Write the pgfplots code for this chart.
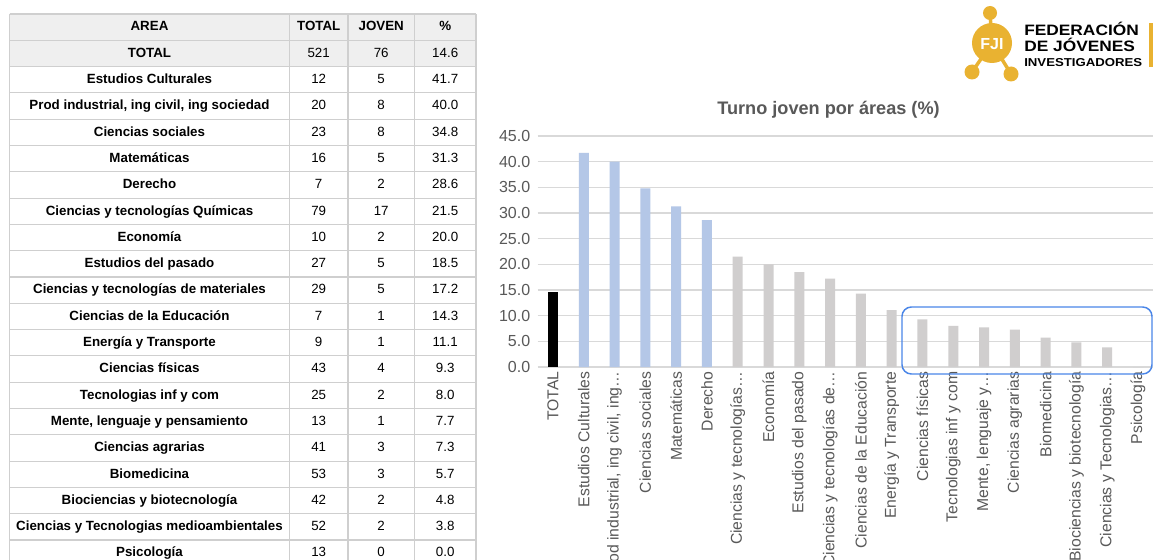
\documentclass[border=0pt]{standalone}
\usepackage{pgfplots}
\pgfplotsset{compat=1.18}
\usepackage{pgfplotstable}
\usepackage{graphicx}
\usepackage{fontspec}
\setmainfont{Liberation Sans}
\definecolor{tgrid}{HTML}{CFCFCF}
\definecolor{thead}{HTML}{EFEFEF}
\definecolor{bblue}{HTML}{B4C7E7}
\definecolor{bgray}{HTML}{D0CECE}
\definecolor{txtgray}{HTML}{595959}
\definecolor{ggrid}{HTML}{D9D9D9}
\definecolor{gold}{HTML}{E9B231}
\definecolor{boxblue}{HTML}{4A86E8}

\pgfplotstableread{
x y
0 14.6
}\totaltab
\pgfplotstableread{
x y
1 41.7
2 40.0
3 34.8
4 31.3
5 28.6
}\bluetab
\pgfplotstableread{
x y
6 21.5
7 20.0
8 18.5
9 17.2
10 14.3
11 11.1
12 9.3
13 8.0
14 7.7
15 7.3
16 5.7
17 4.8
18 3.8
19 0.0
}\graytab

% row index, area, total, joven, pct
\newcommand\trow[5]{%
  \node[font=\bfseries\fontsize{10}{12}\selectfont, text height=7.3pt, text depth=1.6pt, inner sep=0pt] at (149.5,{27.15+26.3*#1}) {#2};
  \node[font=\fontsize{10}{12}\selectfont, text height=7.3pt, text depth=1.6pt, inner sep=0pt] at (318.7,{27.15+26.3*#1}) {#3};
  \node[font=\fontsize{10}{12}\selectfont, text height=7.3pt, text depth=1.6pt, inner sep=0pt] at (381.2,{27.15+26.3*#1}) {#4};
  \node[font=\fontsize{10}{12}\selectfont, text height=7.3pt, text depth=1.6pt, inner sep=0pt] at (445.2,{27.15+26.3*#1}) {#5};
}

\begin{document}
\begin{tikzpicture}
\begin{scope}[x=0.75pt,y=-0.75pt]
\fill[white] (0,0) rectangle (1153,560);
% table
\fill[thead] (9.5,14) rectangle (476,66.6);
\foreach \i in {0,...,20} {\draw[tgrid, line width=0.8pt] (9.5,{14+26.3*\i}) -- (476,{14+26.3*\i});}
\foreach \xx in {9.5,289.5,348,414.5,476} {\draw[tgrid, line width=0.8pt] (\xx,14) -- (\xx,560);}
\node[font=\bfseries\fontsize{10}{12}\selectfont, text height=7.3pt, text depth=1.6pt, inner sep=0pt] at (149.5,27.15) {AREA};
\node[font=\bfseries\fontsize{10}{12}\selectfont, text height=7.3pt, text depth=1.6pt, inner sep=0pt] at (318.7,27.15) {TOTAL};
\node[font=\bfseries\fontsize{10}{12}\selectfont, text height=7.3pt, text depth=1.6pt, inner sep=0pt] at (381.2,27.15) {JOVEN};
\node[font=\bfseries\fontsize{10}{12}\selectfont, text height=7.3pt, text depth=1.6pt, inner sep=0pt] at (445.2,27.15) {\%};
\trow{1}{TOTAL}{521}{76}{14.6}
\trow{2}{Estudios Culturales}{12}{5}{41.7}
\trow{3}{Prod industrial, ing civil, ing sociedad}{20}{8}{40.0}
\trow{4}{Ciencias sociales}{23}{8}{34.8}
\trow{5}{Matemáticas}{16}{5}{31.3}
\trow{6}{Derecho}{7}{2}{28.6}
\trow{7}{Ciencias y tecnologías Químicas}{79}{17}{21.5}
\trow{8}{Economía}{10}{2}{20.0}
\trow{9}{Estudios del pasado}{27}{5}{18.5}
\trow{10}{Ciencias y tecnologías de materiales}{29}{5}{17.2}
\trow{11}{Ciencias de la Educación}{7}{1}{14.3}
\trow{12}{Energía y Transporte}{9}{1}{11.1}
\trow{13}{Ciencias físicas}{43}{4}{9.3}
\trow{14}{Tecnologias inf y com}{25}{2}{8.0}
\trow{15}{Mente, lenguaje y pensamiento}{13}{1}{7.7}
\trow{16}{Ciencias agrarias}{41}{3}{7.3}
\trow{17}{Biomedicina}{53}{3}{5.7}
\trow{18}{Biociencias y biotecnología}{42}{2}{4.8}
\trow{19}{Ciencias y Tecnologias medioambientales}{52}{2}{3.8}
\trow{20}{Psicología}{13}{0}{0.0}
% logo
\draw[gold, line width=2.6pt] (990,13) -- (992,43) -- (972,72);
\draw[gold, line width=2.6pt] (992,43) -- (1011,74);
\fill[gold] (992,43) circle (20);
\fill[gold] (990,13) circle (7);
\fill[gold] (972,72) circle (7.5);
\fill[gold] (1011,74) circle (7.5);
\node[text=white, font=\bfseries\fontsize{12}{12}\selectfont, inner sep=0pt] at (992,44) {FJI};
\node[anchor=base west, inner sep=0pt, font=\bfseries\fontsize{11.3}{11}\selectfont] at (1024,36) {\scalebox{1.15}[1]{FEDERACIÓN}};
\node[anchor=base west, inner sep=0pt, font=\bfseries\fontsize{11.3}{11}\selectfont] at (1024,52) {\scalebox{1.15}[1]{DE JÓVENES}};
\node[anchor=base west, inner sep=0pt, font=\bfseries\fontsize{8.6}{9}\selectfont] at (1024,67) {\scalebox{1.15}[1]{INVESTIGADORES}};
\fill[gold] (1149,23) rectangle (1153,67);
% title
\node[font=\bfseries\fontsize{13.6}{16}\selectfont, text=txtgray] at (828.5,110) {Turno joven por áreas (\%)};
\end{scope}

\begin{axis}[
  at={(403.2pt,-275.25pt)}, anchor=south west,
  scale only axis, width=461.85pt, height=173.25pt,
  xmin=-0.5, xmax=19.5, ymin=0, ymax=45,
  ytick={0,5,...,45},
  xtick={0,...,19},
  xticklabels={TOTAL, Estudios Culturales, {Prod industrial, ing civil, ing…}, Ciencias sociales, Matemáticas, Derecho, Ciencias y tecnologías…, Economía, Estudios del pasado, Ciencias y tecnologías de…, Ciencias de la Educación, Energía y Transporte, Ciencias físicas, Tecnologias inf y com, {Mente, lenguaje y…}, Ciencias agrarias, Biomedicina, Biociencias y biotecnología, Ciencias y Tecnologias…, Psicología},
  axis line style={draw=none},
  major tick length=0pt,
  ymajorgrids, grid style={ggrid, line width=0.9pt},
  /pgf/number format/assume math mode=true,
  y tick label style={/pgf/number format/fixed, /pgf/number format/fixed zerofill, /pgf/number format/precision=1},
  yticklabel style={font=\fontsize{12}{14}\selectfont, text=txtgray, xshift=-2pt},
  xticklabel style={font=\fontsize{11.8}{14}\selectfont, text=txtgray, rotate=90, anchor=east},
  clip=false,
]
\addplot[ybar, bar width=7.5pt, bar shift=0pt, fill=black, draw=none] table {\totaltab};
\addplot[ybar, bar width=7.5pt, bar shift=0pt, fill=bblue, draw=none] table {\bluetab};
\addplot[ybar, bar width=7.5pt, bar shift=0pt, fill=bgray, draw=none] table {\graytab};
\end{axis}

\begin{scope}[x=0.75pt,y=-0.75pt]
\draw[boxblue, line width=1.1pt, rounded corners=7pt] (902,307) rectangle (1152,374);
\pgfresetboundingbox
\path[use as bounding box] (0,0) rectangle (1153,560);
\end{scope}
\end{tikzpicture}
\end{document}
